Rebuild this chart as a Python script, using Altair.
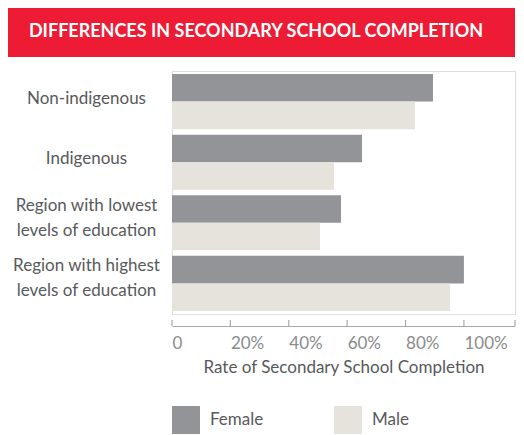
import altair as alt
import pandas as pd

categories = ["Non-indigenous", "Indigenous",
              "Region with lowest levels of education",
              "Region with highest levels of education"]
female = [0.894, 0.651, 0.579, 1.0]
male = [0.832, 0.555, 0.507, 0.952]
sexes = ["Female", "Male"]
tick_values = [0, 0.2, 0.4, 0.6, 0.8, 1.0, 1.175]

rows = []
for c, f, m in zip(categories, female, male):
    rows.append({"cat": c, "sex": "Female", "rate": f})
    rows.append({"cat": c, "sex": "Male", "rate": m})
df = pd.DataFrame(rows)
ticks_df = pd.DataFrame({"t": tick_values})

W = 343
H = 243
TXT = "#58595b"
FONT = "Lato"

xscale = alt.Scale(domain=[0, 1.175], nice=False, zero=True)

label_expr = ("indexof(datum.label,' levels')>0 ? "
              "[substring(datum.label,0,indexof(datum.label,' levels')), "
              "substring(datum.label,indexof(datum.label,' levels')+1)] : datum.label")

bars = alt.Chart(df).mark_bar().encode(
    x=alt.X("rate:Q", scale=xscale,
            axis=alt.Axis(values=tick_values, format="%",
                          labelExpr="datum.value > 1.01 ? '' : (datum.value == 0 ? '0' : format(datum.value, '.0%'))",
                          labelAlign="left", labelFontSize=17, labelColor="#8a8b8d",
                          labelFont=FONT, labelPadding=9, ticks=False,
                          domainColor="#a7a9ac", domainWidth=1.2, offset=12,
                          grid=False,
                          title="Rate of Secondary School Completion",
                          titleFont=FONT, titleFontSize=17, titleFontWeight="normal",
                          titleColor=TXT, titlePadding=8)),
    y=alt.Y("cat:N", sort=categories,
            scale=alt.Scale(paddingInner=0.09, paddingOuter=0.05),
            axis=alt.Axis(title=None, ticks=False, domain=False,
                          labelAlign="center", labelBaseline="middle",
                          labelPadding=86, labelFontSize=17, labelFont=FONT,
                          labelColor=TXT, labelLimit=300, labelLineHeight=25,
                          labelOffset={"condition": {"test": "indexof(datum.value,' levels')>0",
                                                     "value": -17},
                                       "value": -3},
                          labelExpr=label_expr)),
    yOffset=alt.YOffset("sex:N", sort=sexes,
                        scale=alt.Scale(paddingInner=0, paddingOuter=0)),
    color=alt.Color("sex:N", sort=sexes,
                    scale=alt.Scale(domain=sexes, range=["#939498", "#e6e2dc"]),
                    legend=alt.Legend(title=None, orient="none", direction="horizontal",
                                      legendX=0, legendY=H + 92,
                                      symbolType="square", symbolSize=784,
                                      symbolStrokeWidth=0, symbolOpacity=1,
                                      labelFont=FONT, labelFontSize=17,
                                      labelColor=TXT, labelOffset=10,
                                      columnPadding=70, padding=0)),
)

tick_marks = alt.Chart(ticks_df).mark_rule(color="#a7a9ac", strokeWidth=1.2).encode(
    x=alt.X("t:Q", scale=xscale),
    y=alt.value(H + 6),
    y2=alt.value(H + 12),
)

band = alt.Chart(pd.DataFrame({"k": [0]})).mark_rect(color="#ed1c34").encode(
    x=alt.value(-164), x2=alt.value(343),
    y=alt.value(-63), y2=alt.value(-14),
)

title_txt = alt.Chart(pd.DataFrame({"k": [0]})).mark_text(
    text="DIFFERENCES IN SECONDARY SCHOOL COMPLETION",
    color="white", font=FONT, fontWeight="bold", fontSize=18,
    align="center", baseline="middle",
).encode(x=alt.value(84), y=alt.value(-39))

chart = alt.layer(band, title_txt, bars, tick_marks).properties(
    width=W, height=H, padding=0,
).configure_view(stroke=None).configure(background="white")

chart.save("out.html", embed_options={"renderer": "svg", "actions": False})
